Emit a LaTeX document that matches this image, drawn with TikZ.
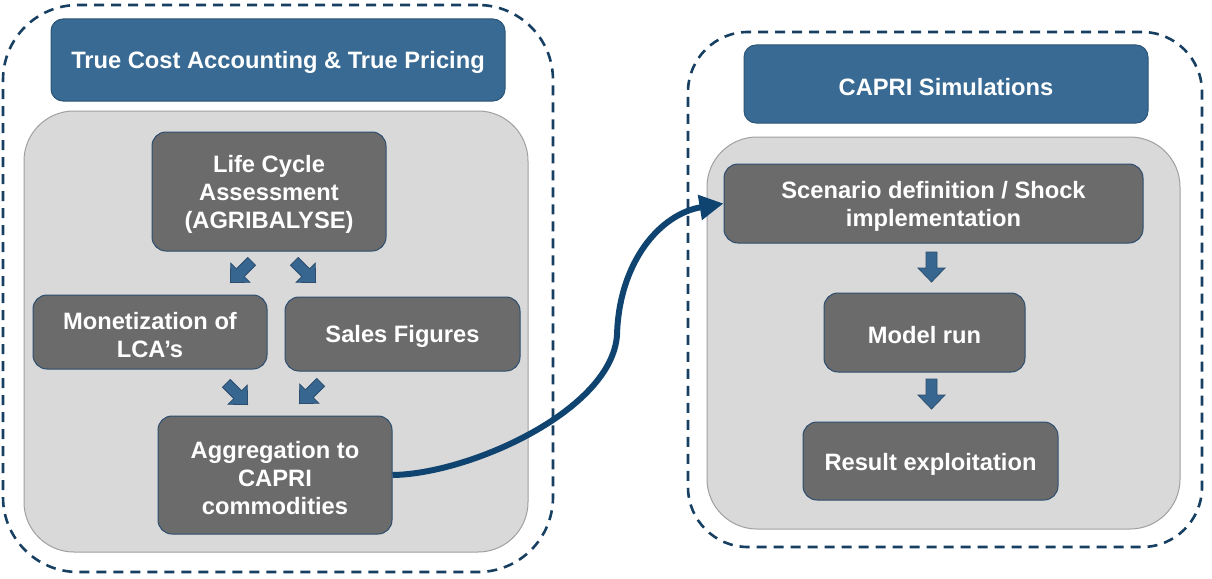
\documentclass[tikz,border=0pt]{standalone}
\usepackage{fontspec}
\setmainfont{Liberation Sans}
\usetikzlibrary{arrows.meta}
\definecolor{titleblue}{HTML}{386A93}
\definecolor{titleedge}{HTML}{2C5678}
\definecolor{panelgray}{HTML}{D9D9D9}
\definecolor{paneledge}{HTML}{A0A0A0}
\definecolor{boxgray}{HTML}{6B6B6B}
\definecolor{boxedge}{HTML}{2D4E6E}
\definecolor{navy}{HTML}{173F62}
\definecolor{curvecol}{HTML}{0F4470}
\definecolor{arrowblue}{HTML}{376791}
\newcommand\topstrut{\rule{0pt}{23pt}}
\tikzset{
  labelfont/.style={text=white, font=\bfseries\fontsize{23.7}{28}\selectfont, align=center, inner sep=0pt, execute at begin node=\topstrut},
  titlebox/.style={labelfont, draw=titleedge, fill=titleblue, rounded corners=12pt, line width=1pt},
  panel/.style={draw=paneledge, fill=panelgray, rounded corners=50pt, line width=1pt, inner sep=0pt},
  stepbox/.style={labelfont, draw=boxedge, fill=boxgray, rounded corners=14pt, line width=1pt},
  outerbox/.style={draw=navy, dash pattern=on 10pt off 7pt, line width=2.6pt, inner sep=0pt},
  blockarrow/.pic={\filldraw[fill=arrowblue, draw=boxedge, line width=0.8pt]
     (-15,-5.5) -- (1,-5.5) -- (1,-13.5) -- (15,0) -- (1,13.5) -- (1,5.5) -- (-15,5.5) -- cycle;}
}
\begin{document}
\begin{tikzpicture}[x=1pt,y=-1pt]
\useasboundingbox (0,0) rectangle (1212,578);
% left group
\node[outerbox, rounded corners=75pt, minimum width=550, minimum height=567] (outerL) at (278,288.5) {};
\node[titlebox, minimum width=454, minimum height=82] (titleL) at (278,60) {True Cost Accounting \& True Pricing};
\node[panel, minimum width=504, minimum height=441] (panelL) at (276,331.5) {};
\node[stepbox, minimum width=234, minimum height=119] (lca) at (269,191.5) {\topstrut Life Cycle\\Assessment\\(AGRIBALYSE)};
\node[stepbox, minimum width=234, minimum height=74] (mon) at (150,332) {\topstrut Monetization of\\LCA’s};
\node[stepbox, minimum width=235, minimum height=74] (sales) at (402.5,334) {Sales Figures};
\node[stepbox, minimum width=234, minimum height=118] (agg) at (275,475) {\topstrut Aggregation to\\CAPRI\\commodities};
\pic[rotate=-135] at (241,272) {blockarrow};
\pic[rotate=-45] at (305,272) {blockarrow};
\pic[rotate=-45] at (237,394) {blockarrow};
\pic[rotate=-135] at (310,393) {blockarrow};
% right group
\node[outerbox, rounded corners=60pt, minimum width=514, minimum height=515] (outerR) at (945,289.5) {};
\node[titlebox, minimum width=404, minimum height=78] (titleR) at (946,84) {CAPRI Simulations};
\node[panel, minimum width=473, minimum height=392] (panelR) at (943.5,333) {};
\node[stepbox, minimum width=419, minimum height=79] (scen) at (933.5,203.5) {\topstrut Scenario definition / Shock\\implementation};
\node[stepbox, minimum width=201, minimum height=79] (model) at (924.5,332.5) {Model run};
\node[stepbox, minimum width=255, minimum height=78] (result) at (930.5,461) {Result exploitation};
\pic[rotate=-90] at (931.5,267) {blockarrow};
\pic[rotate=-90] at (931.5,394) {blockarrow};
% connector
\coordinate (bend) at (617,335);
\draw[curvecol, line width=6pt, -{Triangle[length=24pt,width=24pt]}]
  (agg.east) .. controls (470,474) and (612,410) .. (bend)
  .. controls (619,262) and (660,214) .. (scen.west);
\end{tikzpicture}
\end{document}
